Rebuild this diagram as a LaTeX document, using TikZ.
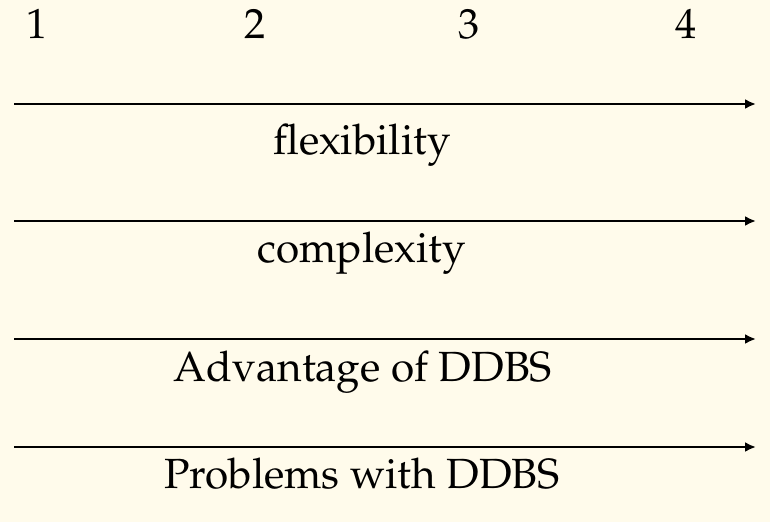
\documentclass[tikz,border=0pt]{standalone}
\usepackage[T1]{fontenc}
\usepackage{mathpazo}
\usetikzlibrary{arrows.meta}
\definecolor{paper}{RGB}{255,251,235}
\begin{document}
\begin{tikzpicture}[x=1pt,y=-1pt,
  lbl/.style={anchor=base,inner sep=0pt,font=\fontsize{42.2}{50}\selectfont},
  axisarrow/.style={line width=2.8pt,-{Latex[length=11pt,width=10pt]}}]
\fill[paper] (0,0) rectangle (770,522);
\useasboundingbox (0,0) rectangle (770,522);
% stage numbers
\node[lbl] (n1) at (37,38) {1};
\node[lbl] (n2) at (255,38) {2};
\node[lbl] (n3) at (469,38) {3};
\node[lbl] (n4) at (686,38) {4};
% arrow end points
\coordinate (a1) at (14,104);  \coordinate (b1) at (756,104);
\coordinate (a2) at (14,221);  \coordinate (b2) at (756,221);
\coordinate (a3) at (14,339);  \coordinate (b3) at (756,339);
\coordinate (a4) at (14,447);  \coordinate (b4) at (756,447);
\draw[axisarrow] (a1) -- (b1);
\draw[axisarrow] (a2) -- (b2);
\draw[axisarrow] (a3) -- (b3);
\draw[axisarrow] (a4) -- (b4);
% labels under the arrows
\node[lbl] (l1) at (362,154) {flexibility};
\node[lbl] (l2) at (362,262) {complexity};
\node[lbl] (l3) at (363,381) {Advantage of DDBS};
\node[lbl] (l4) at (362,488) {Problems with DDBS};
\end{tikzpicture}
\end{document}
